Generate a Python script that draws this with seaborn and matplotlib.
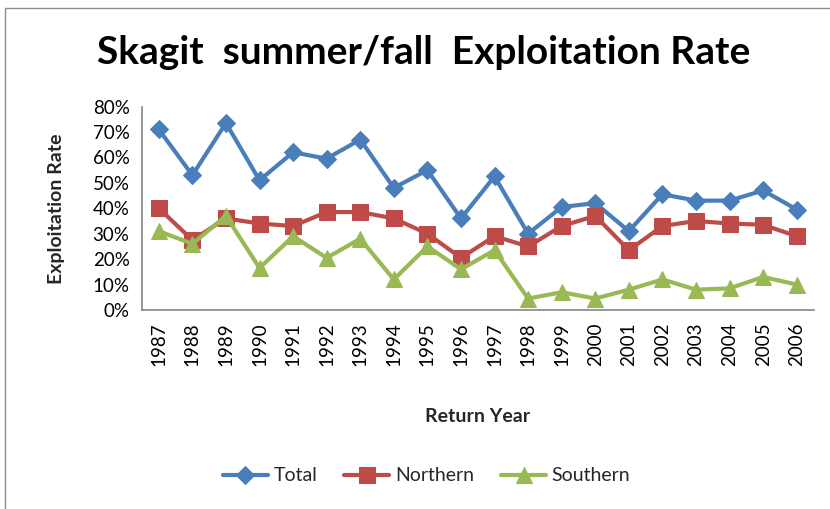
import matplotlib
matplotlib.use("Agg")
import matplotlib.pyplot as plt
from matplotlib.patches import Rectangle
from matplotlib.ticker import PercentFormatter, FixedLocator
import seaborn as sns
import pandas as pd

years = list(range(1987, 2007))
total = [71, 53, 73.5, 51, 62, 59.5, 67, 48, 55, 36, 52.5, 30, 40.5, 42, 31, 45.5, 43, 43, 47, 39.5]
northern = [40, 27.5, 36, 34, 33, 38.5, 38.5, 36, 30, 20.5, 29, 25, 33, 37, 23.5, 33, 35, 34, 33.5, 29]
southern = [31, 26, 37, 16.5, 29, 20.5, 28, 12, 25, 16, 23.5, 4.5, 7, 4.5, 8, 12, 8, 8.5, 13, 10]
series_names = ["Total", "Northern", "Southern"]
colors = ["#4A7EBB", "#BE4B48", "#98B954"]
markers = ["D", "s", "^"]
marker_sizes = [9, 11, 11]

df = pd.DataFrame({
    "year": years * 3,
    "rate": [v / 100 for v in total + northern + southern],
    "series": [n for n in series_names for _ in years],
})

sns.set_theme(style="white")
plt.rcParams["font.family"] = ["Lato", "DejaVu Sans"]

fig = plt.figure(figsize=(8.3, 5.09), dpi=100)
fig.patch.set_facecolor("white")
# chart frame
fig.patches.append(Rectangle((5 / 830, -0.1), 1.1, (509 - 8) / 509 + 0.1,
                             transform=fig.transFigure, fill=False,
                             edgecolor="#8c8c8c", linewidth=1.0))

ax = fig.add_axes([142 / 830, (509 - 310) / 509, (813.5 - 142) / 830, (310 - 106.5) / 509])

for name, c, m, ms in zip(series_names, colors, markers, marker_sizes):
    sns.lineplot(data=df[df["series"] == name], x="year", y="rate", ax=ax,
                 color=c, marker=m, markersize=ms, markeredgecolor=c,
                 linewidth=3, label=name, legend=False)

ax.set_xlim(years[0] - 0.5, years[-1] + 0.5)
ax.set_ylim(0, 0.8)
ax.set_yticks([i / 10 for i in range(9)])
ax.yaxis.set_major_formatter(PercentFormatter(1.0, decimals=0))
ax.set_xticks(years)
ax.set_xticklabels([str(y) for y in years], rotation=90)
ax.xaxis.set_minor_locator(FixedLocator([y - 0.5 for y in years] + [years[-1] + 0.5]))
ax.tick_params(axis="x", which="major", length=0, pad=9, labelsize=13.5, colors="black")
ax.tick_params(axis="x", which="minor", length=5, width=1, color="#868686", direction="out")
ax.tick_params(axis="y", which="major", length=5, width=1, color="#868686",
               direction="out", labelsize=13.5, labelcolor="black", pad=4)
for side in ["top", "right"]:
    ax.spines[side].set_visible(False)
for side in ["left", "bottom"]:
    ax.spines[side].set_color("#868686")
    ax.spines[side].set_linewidth(1.2)
ax.grid(False)

ax.set_xlabel("Return Year", fontsize=14, fontweight="bold", labelpad=30)
ax.set_ylabel("Exploitation Rate", fontsize=14, fontweight="bold", labelpad=20)

fig.text(0.511, 0.897, "Skagit  summer/fall  Exploitation Rate", ha="center", va="center",
         fontsize=28, fontweight="bold", color="black")

handles, labels = ax.get_legend_handles_labels()
fig.legend(handles, labels, loc="center", bbox_to_anchor=(0.514, 0.065), ncol=3,
           frameon=False, fontsize=14, handlelength=2.3, columnspacing=1.4,
           handletextpad=0.3)

fig.savefig("out.png", dpi=100, facecolor="white")
